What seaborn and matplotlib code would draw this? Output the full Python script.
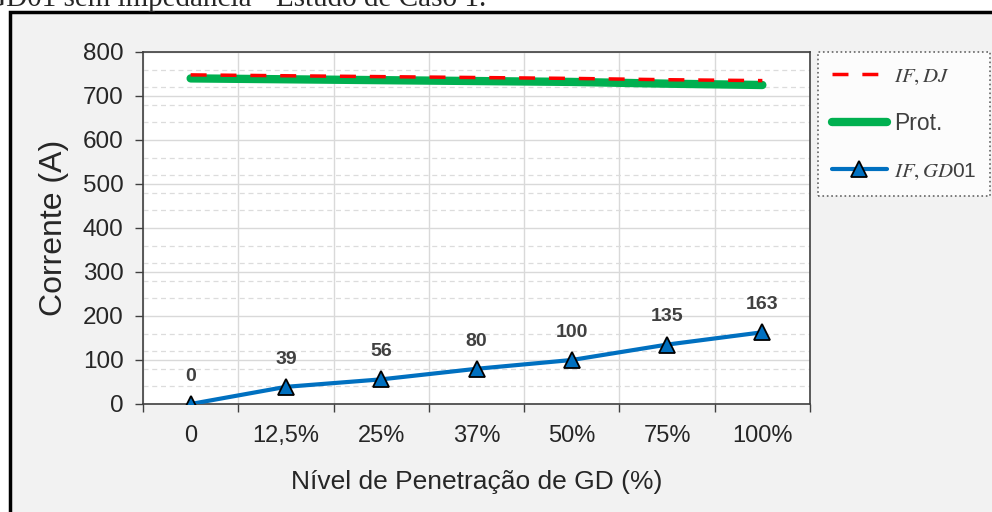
import numpy as np
import pandas as pd
import seaborn as sns
import matplotlib.pyplot as plt
from matplotlib.ticker import MultipleLocator, FixedLocator
from matplotlib.patches import Rectangle

# data
niveis = ["0", "12,5%", "25%", "37%", "50%", "75%", "100%"]
if_dj = [748, 746, 744, 742, 740, 737, 735]
prot = [740, 738, 736, 734, 732, 728, 725]
if_gd01 = [0, 39, 56, 80, 100, 135, 163]

df = pd.DataFrame({"pos": np.arange(len(niveis)), "IF_DJ": if_dj,
                   "Prot": prot, "IF_GD01": if_gd01})

sns.set_style("white")
plt.rcParams['font.family'] = ['Liberation Sans', 'DejaVu Sans']
plt.rcParams['mathtext.fontset'] = 'stix'

fig = plt.figure(figsize=(9.92, 5.12), dpi=100, facecolor="white")
# gray frame of the original figure
fig.patches.append(Rectangle((10 / 992, -0.2), 1.2, 1 - 12 / 512 + 0.2,
                             transform=fig.transFigure, facecolor="#f2f2f2",
                             edgecolor="black", linewidth=2.5, zorder=-10))
fig.text(486 / 992, 1 - 5.5 / 512, "GD01 sem impedância - Estudo de Caso 1.",
         ha="right", va="baseline", fontsize=21, family="Liberation Serif")

ax = fig.add_axes([143 / 992, 1 - 404 / 512, (810 - 143) / 992, (404 - 52) / 512])
ax.set_facecolor("white")

sns.lineplot(data=df, x="pos", y="IF_DJ", ax=ax, color="#ff0000", lw=2.5,
             label=r"$IF,DJ$", zorder=3)
ax.lines[-1].set_dashes([4.6, 4.0])
sns.lineplot(data=df, x="pos", y="Prot", ax=ax, color="#00b050", lw=6,
             label="Prot.", zorder=2.5, solid_capstyle="round")
sns.lineplot(data=df, x="pos", y="IF_GD01", ax=ax, color="#0070c0", lw=3,
             marker="^", markersize=11, markerfacecolor="#0070c0",
             markeredgecolor="black", markeredgewidth=1.3,
             label=r"$IF,GD$01", zorder=5)

for x, y in zip(df["pos"], if_gd01):
    ax.annotate(str(y), (x, y), xytext=(0, 20), textcoords="offset points",
                ha="center", va="center", fontsize=14, fontweight="bold",
                color="#404040")

ax.set_ylim(0, 800)
ax.set_xlim(-0.5, len(niveis) - 0.5)
ax.yaxis.set_major_locator(MultipleLocator(100))
ax.yaxis.set_minor_locator(MultipleLocator(40))
ax.xaxis.set_major_locator(FixedLocator(np.arange(-0.5, len(niveis), 1.0)))
ax.xaxis.set_minor_locator(FixedLocator(np.arange(len(niveis))))
ax.set_xticklabels([], minor=False)
ax.set_xticklabels(niveis, minor=True)
ax.tick_params(axis="x", which="major", direction="out", length=6, width=1,
               color="#404040", bottom=True)
ax.tick_params(axis="x", which="minor", length=0, labelsize=17, pad=15,
               labelcolor="#262626")
ax.tick_params(axis="y", which="major", direction="out", length=6, width=1,
               color="#404040", left=True, labelsize=17.5, pad=8,
               labelcolor="#262626")
ax.tick_params(axis="y", which="minor", length=0)

ax.grid(True, which="major", axis="both", color="#d9d9d9", lw=1)
ax.grid(True, which="minor", axis="y", color="#dcdcdc", lw=0.9, ls=(0, (4, 3)))
ax.set_axisbelow(True)
for s in ax.spines.values():
    s.set_color("#404040")
    s.set_linewidth(1.2)

ax.set_xlabel("Nível de Penetração de GD (%)", fontsize=19, labelpad=17,
              color="#262626")
ax.set_ylabel("Corrente (A)", fontsize=23, labelpad=10, color="#262626")

h, l = ax.get_legend_handles_labels()
ax.get_legend().remove()
leg = fig.legend(h, l, loc="upper right", bbox_to_anchor=(990 / 992, 1 - 52 / 512),
                 fontsize=16.5, frameon=True, fancybox=False, labelspacing=1.12,
                 handlelength=2.4, handletextpad=0.3, borderpad=0.6,
                 borderaxespad=0)
leg.get_frame().set_edgecolor("#404040")
leg.get_frame().set_linestyle(":")
leg.get_frame().set_linewidth(1.2)
for t in leg.get_texts():
    t.set_color("#404040")
    if t.get_text().startswith("$"):
        t.set_fontsize(15)

fig.savefig("out.png", dpi=100, facecolor=fig.get_facecolor())
